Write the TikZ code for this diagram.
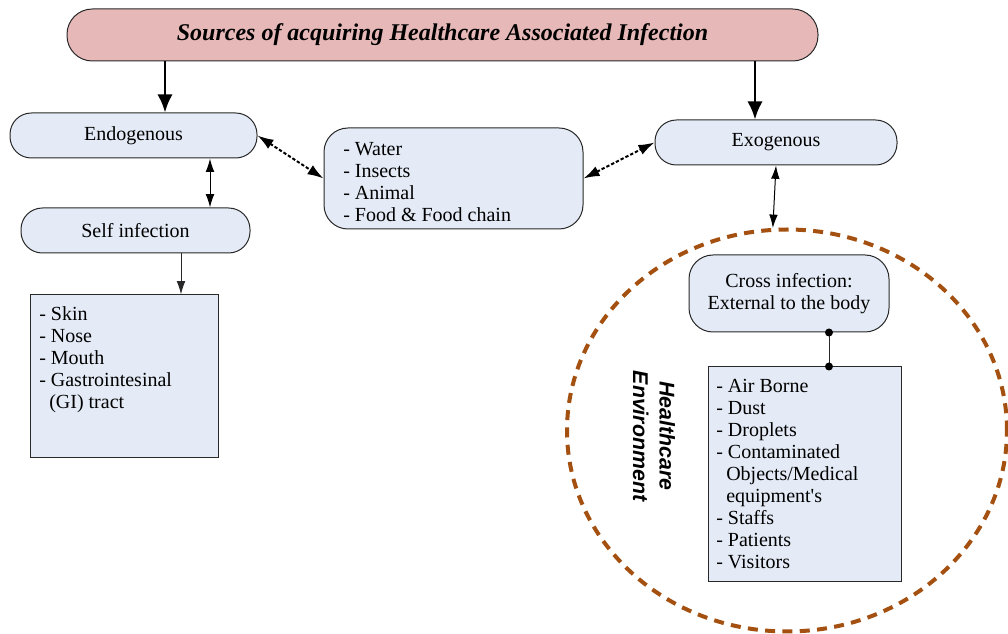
\documentclass[tikz,border=0pt]{standalone}
\usepackage{fontspec}
\setmainfont{Liberation Serif}
\newfontfamily\envfont{Liberation Sans}
\usetikzlibrary{arrows.meta,shapes.geometric}
\definecolor{titlefill}{RGB}{230,185,184}
\definecolor{boxfill}{RGB}{228,235,246}
\definecolor{envbrown}{RGB}{163,80,16}
\definecolor{edge}{RGB}{40,40,40}
\begin{document}
\begin{tikzpicture}[x=0.75pt,y=-0.75pt,
  body/.style={font=\fontsize{15}{16.5}\selectfont},
  pill/.style={draw=edge, fill=boxfill, line width=0.75pt, rounded corners=16pt,
    minimum width=#1, minimum height=33.75pt, inner sep=0pt, body},
  roundbox/.style={draw=edge, fill=boxfill, line width=0.75pt, rounded corners=18pt, inner sep=0pt, body},
  listbox/.style={draw=edge, fill=boxfill, line width=0.75pt, inner sep=0pt},
  listtext/.style={anchor=north west, align=left, inner sep=0pt, body},
  bigarrow/.style={line width=2pt, -{Latex[length=13.5pt,width=11.5pt]}},
  twoway/.style={line width=0.75pt, {Latex[length=10pt,width=6.5pt]}-{Latex[length=10pt,width=6.5pt]}},
  oneway/.style={line width=0.75pt, draw=edge, -{Latex[length=10pt,width=6.5pt]}},
  dotway/.style={line width=1.5pt, dash pattern=on 2.5pt off 1.5pt,
    {Latex[length=12pt,width=8pt]}-{Latex[length=12pt,width=8pt]}},
]
\useasboundingbox (0,0) rectangle (1008,634);

% healthcare environment boundary
\node[ellipse, draw=envbrown, line width=3pt, dash pattern=on 7.5pt off 5.5pt,
  minimum width=330pt, minimum height=301.5pt, inner sep=0pt] (env) at (787,430.5) {};
\node[rotate=-90, align=center, inner sep=0pt,
  font=\envfont\bfseries\itshape\fontsize{16}{20}\selectfont] (envlabel) at (654,436) {Healthcare\\Environment};

% title
\node[draw=edge, fill=titlefill, line width=0.75pt, rounded corners=19pt,
  minimum width=563.25pt, minimum height=39pt, inner sep=0pt,
  font=\bfseries\itshape\fontsize{18}{20}\selectfont] (title) at (442.5,35)
  {Sources of acquiring Healthcare Associated Infection};

% main branches
\node[pill=185.25pt] (endo) at (133.5,135.5) {Endogenous};
\node[pill=171.75pt] (self) at (135.5,230.5) {Self infection};
\node[pill=181.5pt] (exo) at (776,142.5) {Exogenous};

% shared sources
\node[roundbox, minimum width=194.25pt, minimum height=75.75pt] (mid) at (453.5,178.5) {};
\node[listtext] (midtext) at (343,142.5)
  {- Water\\- Insects\\- Animal\\- Food \& Food chain};

% endogenous sites
\node[listbox, minimum width=141pt, minimum height=122.25pt] (llist) at (124,376.5) {};
\node[listtext] (lltext) at (39,306)
  {- Skin\\- Nose\\- Mouth\\- Gastrointesinal\\\hspace{7.5pt}(GI) tract};

% cross infection
\node[roundbox, minimum width=150pt, minimum height=57.75pt, align=center] (cross) at (789,293.5)
  {Cross infection:\\External to the body};
\node[listbox, minimum width=144.75pt, minimum height=161.25pt] (rlist) at (804.5,474.5) {};
\node[listtext] (rltext) at (716,378.5)
  {- Air Borne\\- Dust\\- Droplets\\- Contaminated\\\hspace{7.5pt}Objects/Medical\\\hspace{7.5pt}equipment\textquotesingle s\\- Staffs\\- Patients\\- Visitors};

% connectors
\coordinate (xl) at (165,0);
\coordinate (xr) at (755,0);
\coordinate (xe) at (210,0);
\coordinate (xs) at (181,0);
\coordinate (xc) at (829,0);
\draw[bigarrow] (title.south -| xl) -- (endo.north -| xl);
\draw[bigarrow] (title.south -| xr) -- (exo.north -| xr);
\draw[twoway] (endo.south -| xe) -- (self.north -| xe);
\draw[oneway] (self.south -| xs) -- (llist.north -| xs);
\draw[dotway] (endo.east) -- (mid.west);
\draw[dotway] (mid.east) -- (exo.west);
\draw[twoway] (exo.south) -- (env.94);
\draw[line width=0.75pt, draw=edge] (cross.south -| xc) coordinate (c1) -- (rlist.north -| xc) coordinate (c2);
\fill (c1) circle (3pt);
\fill (c2) circle (3pt);
\end{tikzpicture}
\end{document}
